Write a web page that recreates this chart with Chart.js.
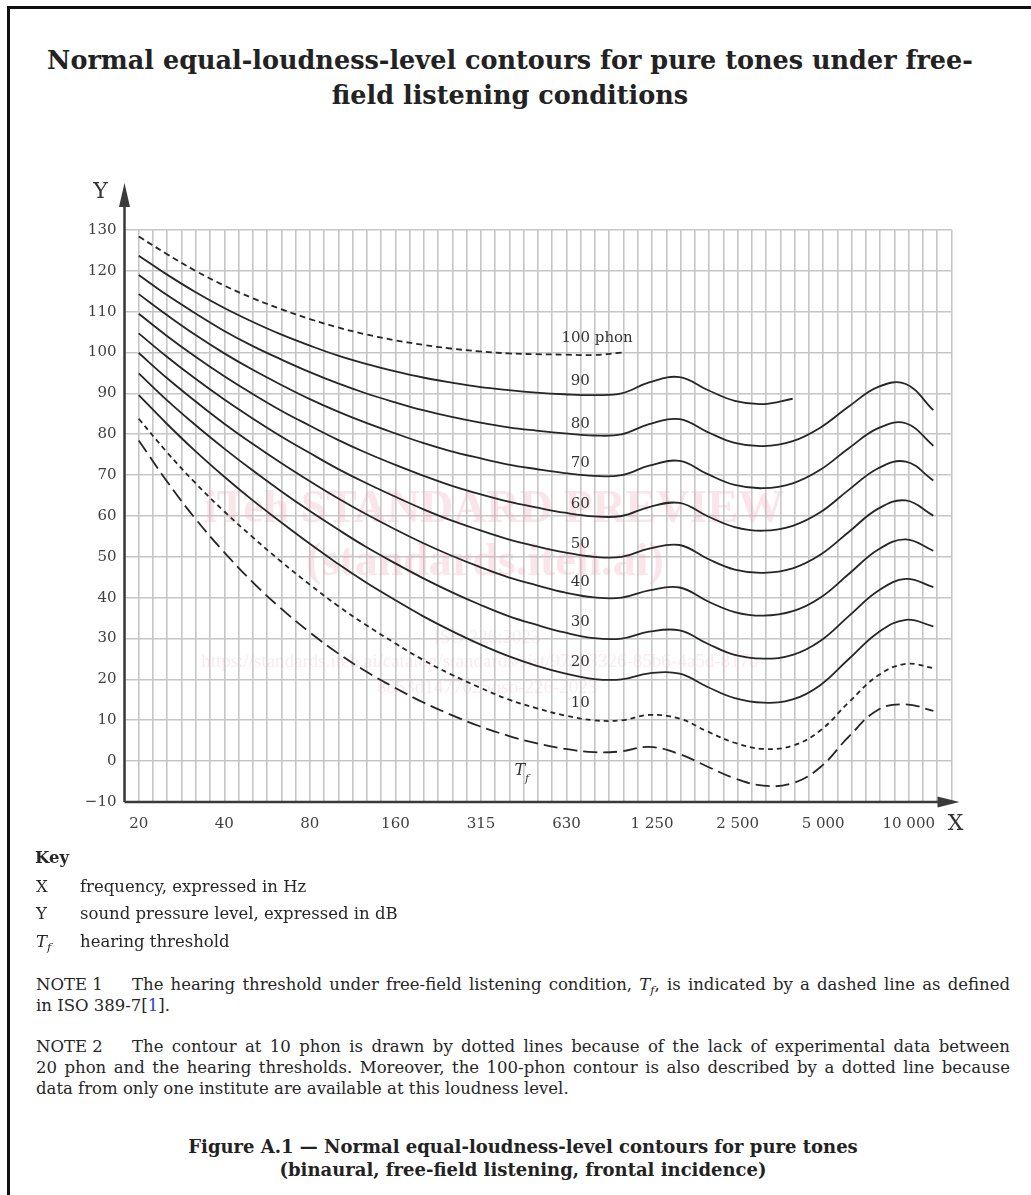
<!DOCTYPE html>
<html>
<head>
<meta charset="utf-8">
<script src="https://cdn.jsdelivr.net/npm/chart.js@4.4.1/dist/chart.umd.min.js"></script>
<style>
    html, body { margin: 0; padding: 0; background: #fff; }
    body { width: 1031px; height: 1195px; position: relative; overflow: hidden; font-family: "DejaVu Serif", serif; color: #262626; }
    #frame { position: absolute; left: 7px; top: 6px; width: 1100px; height: 1300px; border-top: 3px solid #111; border-left: 3px solid #111; }
    .t { position: absolute; white-space: nowrap; font-size: 16.5px; line-height: 20px; }
    .j { text-align: justify; text-align-last: justify; white-space: normal; }
    .title { position: absolute; left: 0; width: 1020px; text-align: center; font-weight: bold; font-size: 25.5px; line-height: 34px; color: #222; }
    .cap { position: absolute; left: 0; width: 1046px; text-align: center; font-weight: bold; font-size: 18px; line-height: 22px; color: #222; }
    #wrap { position: absolute; left: 0; top: 150px; width: 1031px; height: 700px; }
    sub { font-size: 70%; vertical-align: -4px; line-height: 0; }
    .ref { color: #2747d6; }
</style>
</head>
<body>
<div id="frame"></div>

<div class="title" style="top:43px">Normal equal-loudness-level contours for pure tones under free-</div>
<div class="title" style="top:78px">field listening conditions</div>

<div id="wrap"><canvas id="chartContours" width="1031" height="700"></canvas></div>

<div class="t" style="left:35px;top:848px;font-weight:bold">Key</div>
<div class="t" style="left:36px;top:877px">X</div>
<div class="t" style="left:80px;top:877px">frequency, expressed in Hz</div>
<div class="t" style="left:36px;top:904px">Y</div>
<div class="t" style="left:80px;top:904px">sound pressure level, expressed in dB</div>
<div class="t" style="left:36px;top:932px"><i>T</i><sub><i>f</i></sub></div>
<div class="t" style="left:80px;top:932px">hearing threshold</div>

<div class="t" style="left:36px;top:975px">NOTE 1</div>
<div class="t j" style="left:132px;top:975px;width:878px">The hearing threshold under free-field listening condition, <i>T</i><sub><i>f</i></sub>, is indicated by a dashed line as defined</div>
<div class="t" style="left:36px;top:996px">in ISO 389-7[<span class="ref">1</span>].</div>

<div class="t" style="left:36px;top:1037px">NOTE 2</div>
<div class="t j" style="left:132px;top:1037px;width:878px">The contour at 10 phon is drawn by dotted lines because of the lack of experimental data between</div>
<div class="t j" style="left:36px;top:1058px;width:974px">20 phon and the hearing thresholds. Moreover, the 100-phon contour is also described by a dotted line because</div>
<div class="t" style="left:36px;top:1079px">data from only one institute are available at this loudness level.</div>

<div class="cap" style="top:1136px">Figure A.1 — Normal equal-loudness-level contours for pure tones</div>
<div class="cap" style="top:1159px">(binaural, free-field listening, frontal incidence)</div>

<script>
// frequências (Hz), terços de oitava
const frequencies = [20, 25, 31.5, 40, 50, 63, 80, 100, 125, 160, 200, 250, 315, 400, 500, 630, 800, 1000,
    1250, 1600, 2000, 2500, 3150, 4000, 5000, 6300, 8000, 10000, 12500];

// níveis de pressão sonora (dB) por contorno
const phon100 = [128.4, 124.2, 120.1, 116.4, 113.4, 110.7, 108.2, 106.2, 104.5, 103.0, 101.9, 101.0, 100.3, 99.8, 99.6, 99.5, 99.4, 100.0];
const phon90 = [123.7, 119.2, 114.9, 110.9, 107.6, 104.5, 101.7, 99.3, 97.3, 95.4, 93.9, 92.7, 91.6, 90.8, 90.2, 89.8, 89.6, 90.0,
    92.7, 94.0, 90.9, 88.2, 87.4, 88.7];
const phon80 = [119.0, 114.2, 109.7, 105.3, 101.7, 98.4, 95.2, 92.5, 90.1, 87.8, 85.9, 84.3, 82.9, 81.7, 80.9, 80.2, 79.7, 80.0,
    82.5, 83.7, 80.6, 77.9, 77.1, 78.3, 81.6, 86.8, 91.6, 92.3, 85.9];
const phon70 = [114.3, 109.3, 104.4, 99.8, 95.9, 92.2, 88.6, 85.6, 82.9, 80.2, 77.9, 75.9, 74.2, 72.6, 71.5, 70.5, 69.8, 70.0,
    72.3, 73.5, 70.3, 67.6, 66.8, 68.0, 71.3, 76.6, 81.5, 82.7, 77.2];
const phon60 = [109.5, 104.2, 99.1, 94.2, 90.0, 85.9, 82.1, 78.7, 75.6, 72.5, 69.9, 67.5, 65.4, 63.5, 62.1, 60.8, 59.9, 60.0,
    62.2, 63.2, 60.0, 57.3, 56.4, 57.6, 60.9, 66.4, 71.7, 73.3, 68.7];
const phon50 = [104.7, 99.1, 93.7, 88.5, 84.0, 79.6, 75.4, 71.6, 68.2, 64.7, 61.7, 59.0, 56.6, 54.3, 52.6, 51.1, 50.0, 50.0,
    52.0, 52.9, 49.6, 46.9, 46.1, 47.2, 50.5, 56.1, 61.8, 63.8, 60.1];
const phon40 = [99.9, 93.9, 88.2, 82.6, 77.8, 73.1, 68.5, 64.4, 60.6, 56.7, 53.4, 50.4, 47.6, 45.0, 43.1, 41.3, 40.1, 40.0,
    41.8, 42.5, 39.2, 36.5, 35.6, 36.7, 40.0, 45.8, 51.8, 54.3, 51.5];
const phon30 = [94.9, 88.5, 82.4, 76.5, 71.3, 66.2, 61.2, 56.8, 52.6, 48.4, 44.8, 41.5, 38.4, 35.5, 33.4, 31.5, 30.1, 30.0,
    31.7, 32.0, 28.8, 26.0, 25.1, 26.0, 29.4, 35.5, 41.7, 44.6, 42.6];
const phon20 = [89.6, 82.7, 76.0, 69.6, 64.0, 58.6, 53.2, 48.4, 43.9, 39.4, 35.5, 32.0, 28.7, 25.7, 23.4, 21.5, 20.1, 20.0,
    21.5, 21.4, 18.2, 15.4, 14.3, 15.1, 18.6, 25.0, 31.5, 34.6, 33.0];
const phon10 = [83.8, 75.8, 68.2, 61.1, 55.0, 49.0, 43.2, 38.1, 33.5, 28.8, 24.8, 21.3, 18.1, 15.1, 13.0, 11.2, 10.0, 10.0,
    11.3, 10.4, 7.3, 4.5, 3.0, 3.8, 7.5, 14.4, 21.0, 23.8, 22.8];
const hearingThreshold = [78.5, 68.7, 59.5, 51.1, 44.0, 37.5, 31.5, 26.5, 22.1, 17.9, 14.4, 11.4, 8.6, 6.2, 4.4, 3.0, 2.2, 2.4,
    3.5, 1.7, -1.3, -4.2, -6.0, -5.4, -1.5, 6.0, 12.6, 13.9, 12.3];

// rótulos dos eixos
const xTickLabels = ['20', '40', '80', '160', '315', '630', '1 250', '2 500', '5 000', '10 000'];
const yMin = -10, yMax = 130, yStep = 10;

// grade: 6 linhas por oitava, de 1/6 oitava abaixo de 20 Hz até 9,5 oitavas acima
const gridFreqs = [];
for (let k = -1; k <= 57; k++) gridFreqs.push(20 * Math.pow(2, k / 6));

const LINE = '#262626';
const contours = [
    { name: '100 phon', values: phon100, dash: [6, 4] },
    { name: '90 phon', values: phon90, dash: [] },
    { name: '80 phon', values: phon80, dash: [] },
    { name: '70 phon', values: phon70, dash: [] },
    { name: '60 phon', values: phon60, dash: [] },
    { name: '50 phon', values: phon50, dash: [] },
    { name: '40 phon', values: phon40, dash: [] },
    { name: '30 phon', values: phon30, dash: [] },
    { name: '20 phon', values: phon20, dash: [] },
    { name: '10 phon', values: phon10, dash: [5, 4] },
    { name: 'Tf', values: hearingThreshold, dash: [14, 6] }
];

// rótulos dentro do gráfico (âncoras em Hz / dB)
const curveLabels = [
    { text: '100 phon', f: 820, db: 103.6 },
    { text: '90', f: 715, db: 93.1 },
    { text: '80', f: 715, db: 82.6 },
    { text: '70', f: 715, db: 73.0 },
    { text: '60', f: 715, db: 63.0 },
    { text: '50', f: 715, db: 53.0 },
    { text: '40', f: 715, db: 43.8 },
    { text: '30', f: 715, db: 34.0 },
    { text: '20', f: 715, db: 24.3 },
    { text: '10', f: 715, db: 14.1 }
];
const tfLabel = { f: 446, db: -2.9 };

const decorPlugin = {
    id: 'decor',
    beforeDatasetsDraw(chart) {
        // marca d'água
        const ctx = chart.ctx;
        ctx.save();
        ctx.textAlign = 'center';
        ctx.textBaseline = 'middle';
        ctx.fillStyle = 'rgba(232, 160, 180, 0.28)';
        ctx.font = 'bold 46px "Liberation Serif"';
        ctx.fillText('iTeh STANDARD PREVIEW', 494, 360);
        ctx.fillText('(standards.iteh.ai)', 485, 413);
        ctx.fillStyle = 'rgba(232, 160, 180, 0.22)';
        ctx.font = '19px "Liberation Serif"';
        ctx.fillText('ISO 226:2023', 487, 488);
        ctx.fillText('https://standards.iteh.ai/catalog/standards/sist/97323326-85b6-4a5d-817b-', 483, 512);
        ctx.fillText('8853d1477625/iso-226-2023', 487, 538);
        ctx.restore();
    },
    afterDatasetsDraw(chart) {
        const { ctx, chartArea: a, scales: { x, y } } = chart;
        ctx.save();
        // eixos com setas
        ctx.strokeStyle = '#3a3a3a';
        ctx.fillStyle = '#3a3a3a';
        ctx.lineWidth = 2.5;
        ctx.beginPath();
        ctx.moveTo(a.left, a.bottom);
        ctx.lineTo(a.right - 10, a.bottom);
        ctx.moveTo(a.left, a.bottom);
        ctx.lineTo(a.left, a.top - 28);
        ctx.stroke();
        ctx.beginPath();
        ctx.moveTo(a.right + 8, a.bottom);
        ctx.lineTo(a.right - 14, a.bottom - 5.5);
        ctx.lineTo(a.right - 14, a.bottom + 5.5);
        ctx.closePath();
        ctx.fill();
        ctx.beginPath();
        ctx.moveTo(a.left, a.top - 47);
        ctx.lineTo(a.left - 5.5, a.top - 23);
        ctx.lineTo(a.left + 5.5, a.top - 23);
        ctx.closePath();
        ctx.fill();
        // letras X e Y
        ctx.fillStyle = '#333';
        ctx.font = '22px "DejaVu Serif"';
        ctx.textAlign = 'center';
        ctx.textBaseline = 'middle';
        ctx.fillText('X', a.right + 4, a.bottom + 22);
        ctx.fillText('Y', a.left - 24, a.top - 38);
        // rótulos das curvas
        ctx.font = '15px "DejaVu Serif"';
        curveLabels.forEach(l => {
            ctx.fillText(l.text, x.getPixelForValue(l.f), y.getPixelForValue(l.db));
        });
        // T_f
        const tx = x.getPixelForValue(tfLabel.f);
        const ty = y.getPixelForValue(tfLabel.db);
        ctx.font = 'italic 16px "DejaVu Serif"';
        ctx.fillText('T', tx - 2, ty - 2);
        ctx.font = 'italic 11px "DejaVu Serif"';
        ctx.fillText('f', tx + 5, ty + 6);
        ctx.restore();
    }
};

const tickFont = { family: 'DejaVu Serif', size: 15 };

const chartContours = new Chart(document.getElementById('chartContours'), {
    type: 'line',
    data: {
        datasets: contours.map(c => ({
            label: c.name,
            data: c.values.map((v, i) => ({ x: frequencies[i], y: v })),
            borderColor: LINE,
            borderWidth: 1.8,
            borderDash: c.dash,
            pointRadius: 0,
            fill: false,
            tension: 0.4
        }))
    },
    options: {
        responsive: false,
        animation: false,
        devicePixelRatio: 1,
        layout: { padding: { top: 80, right: 79.5, left: 0, bottom: 0 } },
        plugins: { legend: { display: false }, tooltip: { enabled: false } },
        scales: {
            x: {
                type: 'logarithmic',
                min: gridFreqs[0],
                max: gridFreqs[gridFreqs.length - 1],
                afterBuildTicks: axis => { axis.ticks = gridFreqs.map(v => ({ value: v })); },
                afterFit: axis => { axis.height = 48; },
                ticks: {
                    autoSkip: false, maxRotation: 0, minRotation: 0, padding: 13,
                    color: '#404040', font: tickFont,
                    callback: (v, i) => {
                        const k = i - 1;
                        return (k >= 0 && k % 6 === 0) ? (xTickLabels[k / 6] || '') : '';
                    }
                },
                grid: { color: '#c6c6c6', lineWidth: 1.6, drawTicks: false },
                border: { display: false }
            },
            y: {
                type: 'linear',
                min: yMin,
                max: yMax,
                afterFit: axis => { axis.width = 124.5; },
                ticks: {
                    stepSize: yStep, padding: 8, color: '#404040', font: tickFont,
                    callback: v => String(v).replace('-', '\u2212')
                },
                grid: { color: '#c6c6c6', lineWidth: 1.6, drawTicks: false },
                border: { display: false }
            }
        }
    },
    plugins: [decorPlugin]
});
</script>
</body>
</html>
